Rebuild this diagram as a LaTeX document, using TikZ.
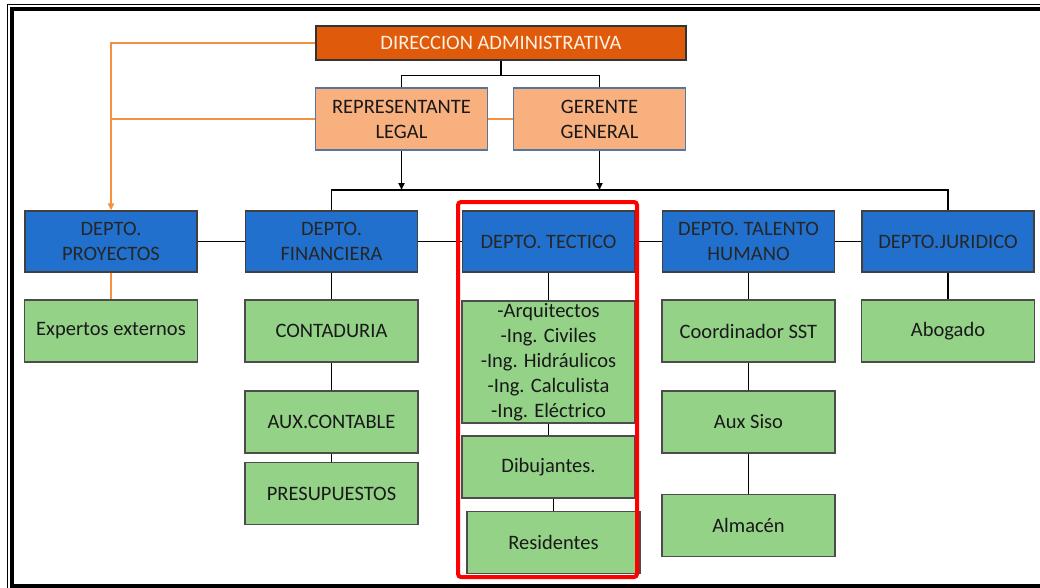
\documentclass[tikz,border=0pt]{standalone}
\usepackage{fontspec}
\setmainfont{Carlito}
\usetikzlibrary{positioning,arrows.meta}

\definecolor{dirorange}{HTML}{E05A0B}
\definecolor{peach}{HTML}{F9B07F}
\definecolor{deptblue}{HTML}{2170CE}
\definecolor{leafgreen}{HTML}{94D287}
\definecolor{linkorange}{HTML}{F4913F}
\definecolor{slateedge}{HTML}{5676A0}

\begin{document}
\begin{tikzpicture}[x=1pt, y=-1pt, on grid,
	every node/.style={font=\fontsize{20.5}{25}\selectfont, align=center, inner sep=0pt},
	boss/.style={draw=black!80, line width=1.2pt, fill=dirorange, text=white!88!orange, minimum width=370pt, minimum height=34pt},
	chief/.style={draw=slateedge, line width=1.2pt, fill=peach, text=black!90, minimum width=172pt, minimum height=62pt},
	dept/.style={draw=black!75, line width=1.2pt, fill=deptblue, text=black!85, minimum width=172pt, minimum height=61pt},
	unit/.style={draw=black!70, line width=1.2pt, fill=leafgreen, text=black!90, minimum width=173pt, minimum height=62pt},
	link/.style={black, line width=1.8pt},
	olink/.style={linkorange, line width=1.8pt},
	tip/.style={-{Triangle[length=7pt,width=6pt]}},
	hilite/.style={red, line width=4pt, rounded corners=3pt},
	frame/.style={black, line width=4pt}]
	\useasboundingbox (0,0) rectangle (1040,588);
	\clip (0,0) rectangle (1040,588);
	
	\draw[black, line width=0.9pt] (7,4) rectangle (1060,600);
	\draw[frame] (11.5,9) rectangle (1060,586);
	
	\node[boss] (dir) at (501,43) {DIRECCION ADMINISTRATIVA};
	\node[chief] (rep) at (401.5,119) {REPRESENTANTE\\LEGAL};
	\node[chief, right=198pt of rep] (ger) {GERENTE\\GENERAL};
	
	\node[dept] (proy) at (111,241.5) {DEPTO.\\PROYECTOS};
	\node[dept, right=220.5pt of proy] (fin) {DEPTO.\\FINANCIERA};
	\node[dept, right=217pt of fin] (tec) {DEPTO. TECTICO};
	\node[dept, right=200pt of tec] (tal) {DEPTO. TALENTO\\HUMANO};
	\node[dept, right=199.5pt of tal] (jur) {DEPTO.JURIDICO};
	
	\node[unit, below=89.5pt of proy] (exp) {Expertos externos};
	\node[unit, below=89.5pt of fin] (cont) {CONTADURIA};
	\node[unit, below=91pt of cont] (aux) {AUX.CONTABLE};
	\node[unit, below=71.5pt of aux] (pres) {PRESUPUESTOS};
	\node[unit, below=120.5pt of tec, minimum height=122pt] (arq) {-Arquitectos\\-Ing. Civiles\\-Ing. Hidráulicos\\-Ing. Calculista\\-Ing. Eléctrico};
	\node[unit, below=105pt of arq] (dib) {Dibujantes.};
	\node[unit, below right=75.5pt and 5pt of dib] (res) {Residentes};
	\node[unit, below=89.5pt of tal] (coord) {Coordinador SST};
	\node[unit, below=91pt of coord] (siso) {Aux Siso};
	\node[unit, below=103.5pt of siso] (alm) {Almacén};
	\node[unit, below=89.5pt of jur] (abog) {Abogado};
	
	\coordinate (bus) at (0,190);
	
	% orange links
	\draw[olink, tip] (dir.west) -| (proy.north);
	\draw[olink] (rep.west) -- (rep.west -| proy);
	\draw[olink] (rep) edge (ger)
	(proy) edge (exp);
	
	% black links
	\draw[link] (dir.south) -- ++(0,15) coordinate (hub);
	\draw[link] (rep.north) |- (hub) -| (ger.north);
	\draw[link, tip] (rep.south) -- (rep.south |- bus);
	\draw[link, tip] (ger.south) -- (ger.south |- bus);
	\draw[link] (fin.north) -- (fin.north |- bus) -- (jur.north |- bus) -- (jur.north);
	\draw[link] (proy) edge (fin)
	(fin) edge (tec)
	(tec) edge (tal)
	(tal) edge (jur)
	(fin) edge (cont)
	(cont) edge (aux)
	(aux) edge (pres)
	(tec) edge (arq)
	(arq) edge (dib)
	(tal) edge (coord)
	(coord) edge (siso)
	(siso) edge (alm)
	(jur) edge (abog);
	\draw[link] (res.north |- dib.south) -- (res.north);
	
	\draw[hilite] (458,202) rectangle (637,577);
\end{tikzpicture}
\end{document}
